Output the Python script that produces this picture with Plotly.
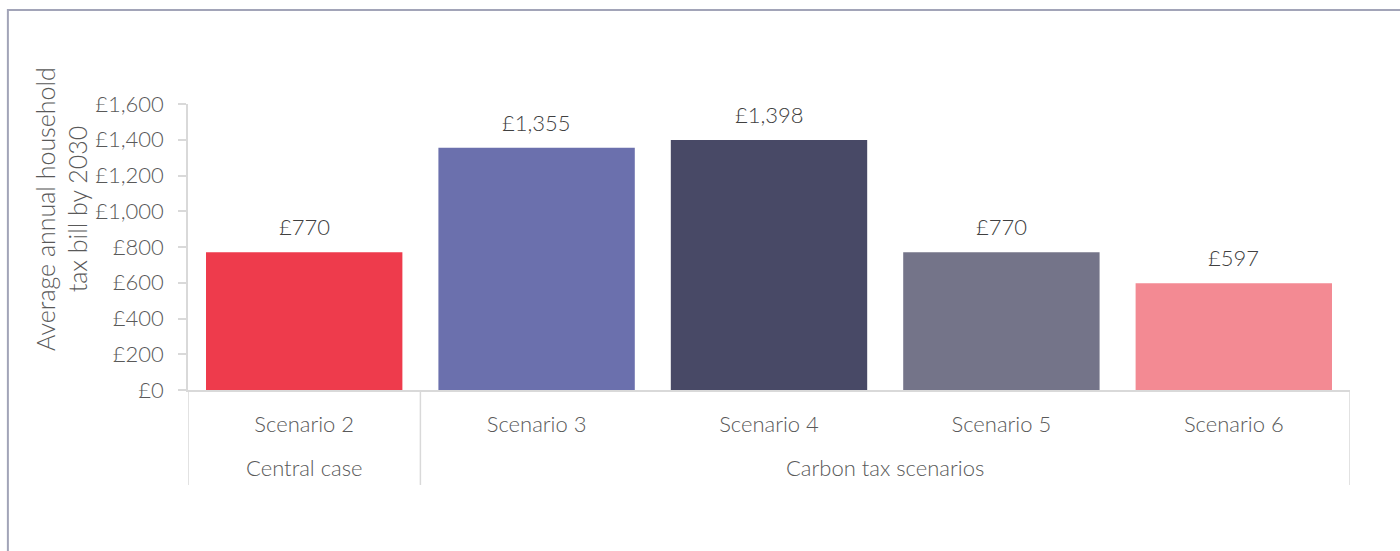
import plotly.graph_objects as go

groups = ["Central case", "Carbon tax scenarios", "Carbon tax scenarios", "Carbon tax scenarios", "Carbon tax scenarios"]
scenarios = ["Scenario 2", "Scenario 3", "Scenario 4", "Scenario 5", "Scenario 6"]
values = [770, 1355, 1398, 770, 597]
colors = ["#EE3B4C", "#6B70AD", "#484966", "#747489", "#F38A93"]
y_title = "Average annual household<br>tax bill by 2030"

FONT = "Lato"
TXT = "#595959"
FS = 22
AX = "#D9D9D9"

fig = go.Figure()
fig.add_trace(go.Bar(
    x=scenarios,
    y=values,
    marker=dict(color=colors, line=dict(width=0)),
    width=0.845,
    hoverinfo="skip",
))

# value labels above the bars
for s, v in zip(scenarios, values):
    fig.add_annotation(
        x=s, y=v, text=f"£{v:,}", showarrow=False,
        yanchor="bottom", yshift=10,
        font=dict(family=FONT, size=FS, color="#404040", weight=300),
    )

# group labels and dividers derived from the group list
spans = []
start = 0
for i in range(1, len(groups) + 1):
    if i == len(groups) or groups[i] != groups[start]:
        spans.append((groups[start], start, i - 1))
        start = i
div_y = -0.332
for name, a, b in spans:
    fig.add_annotation(
        x=(a + b) / 2, xref="x", y=-0.2727, yref="paper",
        text=name, showarrow=False, yanchor="middle",
        font=dict(family=FONT, size=FS, color=TXT, weight=300),
    )
bounds = sorted({a - 0.5 for _, a, _ in spans} | {b + 0.5 for _, _, b in spans})
for xb in bounds:
    fig.add_shape(type="line", xref="x", yref="paper",
                  x0=xb, x1=xb, y0=0, y1=div_y,
                  line=dict(color=AX, width=1.5))

# y-axis title
fig.add_annotation(
    x=-0.1085, xref="paper", y=0.633, yref="paper",
    text=y_title, textangle=-90, showarrow=False,
    xanchor="center", yanchor="middle",
    font=dict(family=FONT, size=25, color=TXT, weight=300),
)

# outer frame
fig.add_shape(type="rect", xref="paper", yref="paper",
              x0=-0.155, x1=1.5, y0=-2, y1=1.3287,
              line=dict(color="#A2A4B8", width=2), layer="below")

fig.update_layout(
    width=1400, height=551,
    margin=dict(l=188, r=50, t=104, b=161, autoexpand=False),
    plot_bgcolor="white", paper_bgcolor="white",
    showlegend=False,
    font=dict(family=FONT, size=FS, color=TXT, weight=300),
    separators=".,",
)
fig.update_yaxes(
    range=[0, 1600], dtick=200, tickprefix="£", tickformat=",d",
    showgrid=False, zeroline=False,
    showline=True, linecolor=AX, linewidth=1.5,
    ticks="outside", ticklen=8, tickcolor=AX, tickwidth=1.5,
    ticklabelstandoff=10,
    tickfont=dict(family=FONT, size=FS, color=TXT, weight=300),
    automargin=False,
)
fig.update_xaxes(
    range=[-0.5, 4.5],
    showgrid=False, zeroline=False,
    showline=True, linecolor=AX, linewidth=1.5,
    ticks="", ticklabelstandoff=14,
    tickfont=dict(family=FONT, size=FS, color=TXT, weight=300),
    automargin=False,
)

fig.write_html("out.html")
